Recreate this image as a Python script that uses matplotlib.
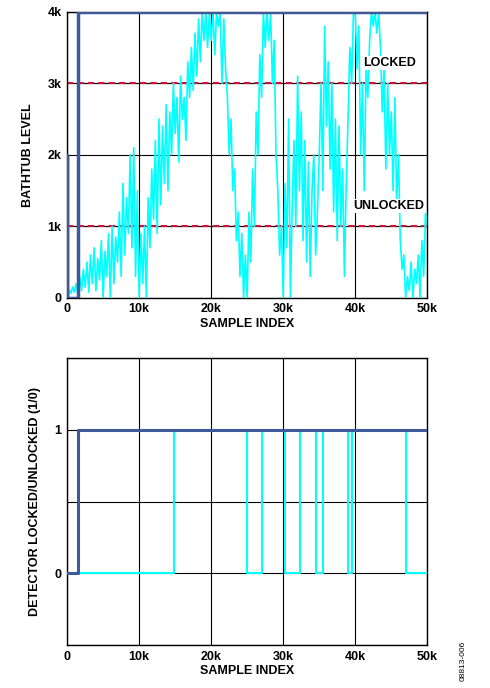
import numpy as np
import matplotlib
matplotlib.use("Agg")
import matplotlib.pyplot as plt

plt.rcParams['font.family'] = ['Liberation Sans', 'DejaVu Sans']
plt.rcParams['font.weight'] = 'bold'

bathtub_level = [
 40,120,60,150,80,200,50,300,100,400,150,500,80,600,200,700,100,550,250,800,
 0,650,300,900,0,1000,200,850,500,1200,300,1600,600,1400,900,2000,700,2100,300,1500,
 0,900,200,1000,0,1400,700,1800,1100,2200,900,2500,1300,2400,1600,2700,1500,2600,2000,3000,
 2300,2800,1900,3100,2500,2800,2200,3300,2800,3500,2900,3700,3100,3900,3300,4000,3600,4000,3500,4000,
 3600,4000,3400,4000,3800,4000,3000,3900,3200,2800,2000,2500,1500,1800,800,1200,300,900,0,600,
 0,1200,500,1800,1000,2600,2000,3400,2800,4000,3500,4000,3600,4000,3000,3600,2000,1500,600,1000,
 0,1600,700,2500,0,1300,2200,1000,3100,1500,2600,800,2200,500,1900,300,1500,2000,600,1200,
 2000,3000,1500,3800,2400,3300,1800,3000,1200,2500,800,2400,1000,1800,300,1600,2500,3500,3000,4000,
 4000,3200,3800,2000,3000,1500,3200,2800,3600,4000,3800,4000,3700,4000,3500,2600,3200,1800,3000,2000,
 2600,1500,2800,1300,2000,800,400,600,0,300,100,500,0,400,200,600,0,800,300,1200,
 1000]
sample_x = np.arange(len(bathtub_level)) * 250

blue_x = [0, 0, 0, 1500, 1500, 50000]
blue_y = [0, 2000, 0, 0, 4000, 4000]

det_blue_x = [0, 1500, 1500, 50000]
det_blue_y = [0, 0, 1, 1]
det_cyan_x = [0, 14800, 14800, 25000, 25000, 27000, 27000, 30200, 30200, 32300, 32300,
              34500, 34500, 35500, 35500, 39000, 39000, 39500, 39500, 47000, 47000, 50000]
det_cyan_y = [0, 0, 1, 1, 0, 0, 1, 1, 0, 0, 1, 1, 0, 0, 1, 1, 0, 0, 1, 1, 0, 0]

xticks = [0, 10000, 20000, 30000, 40000, 50000]
xlabels = ['0', '10k', '20k', '30k', '40k', '50k']

CYAN = '#00ffff'
BLUE = '#3f5a9a'

fig = plt.figure(figsize=(4.9, 6.88), dpi=100)
ax1 = fig.add_axes([0.137, 0.567, 0.735, 0.416])
ax2 = fig.add_axes([0.137, 0.0625, 0.735, 0.417])

ax1.plot(sample_x, bathtub_level, color=CYAN, lw=1.2, zorder=3)
ax1.plot(blue_x, blue_y, color=BLUE, lw=2.5, zorder=4)
for y in (1000, 3000):
    ax1.axhline(y, color='black', lw=0.8, zorder=1)
    ax1.axhline(y, color='#d0103a', lw=1.5, ls=(0, (3, 2)), zorder=2)
ax1.set_xlim(0, 50000)
ax1.set_ylim(0, 4000)
ax1.set_yticks([0, 1000, 2000, 3000, 4000])
ax1.set_yticklabels(['0', '1k', '2k', '3k', '4k'])
ax1.set_ylabel('BATHTUB LEVEL', fontsize=9, fontweight='bold', labelpad=10)
ax1.text(44700, 3200, 'LOCKED', fontsize=9, fontweight='bold', ha='center', va='bottom',
         bbox=dict(facecolor='white', edgecolor='none', pad=1), zorder=5)
ax1.text(44700, 1200, 'UNLOCKED', fontsize=9, fontweight='bold', ha='center', va='bottom',
         bbox=dict(facecolor='white', edgecolor='none', pad=1), zorder=5)
ax1.grid(True, color='black', lw=0.8, zorder=0)

ax2.plot(det_cyan_x, det_cyan_y, color=CYAN, lw=1.5, zorder=3)
ax2.plot(det_blue_x, det_blue_y, color=BLUE, lw=2.2, zorder=4)
ax2.set_xlim(0, 50000)
ax2.set_ylim(-0.5, 1.5)
ax2.set_yticks([-0.5, 0, 0.5, 1, 1.5])
ax2.set_yticklabels(['', '0', '', '1', ''])
ax2.set_ylabel('DETECTOR LOCKED/UNLOCKED (1/0)', fontsize=9, fontweight='bold', labelpad=10)
ax2.grid(True, color='black', lw=0.8, zorder=0)

for ax in (ax1, ax2):
    ax.set_axisbelow(True)
    ax.set_xticks(xticks)
    ax.set_xticklabels(xlabels)
    ax.set_xlabel('SAMPLE INDEX', fontsize=9, fontweight='bold', labelpad=2)
    ax.tick_params(length=0, labelsize=9, pad=4)
    for s in ax.spines.values():
        s.set_color('black')
        s.set_linewidth(1)
    for lab in ax.get_xticklabels() + ax.get_yticklabels():
        lab.set_fontweight('bold')

fig.text(0.945, 0.04, '08813-006', rotation=90, fontsize=6, ha='center', va='center',
         fontweight='normal')

fig.savefig('out.png', dpi=100)
